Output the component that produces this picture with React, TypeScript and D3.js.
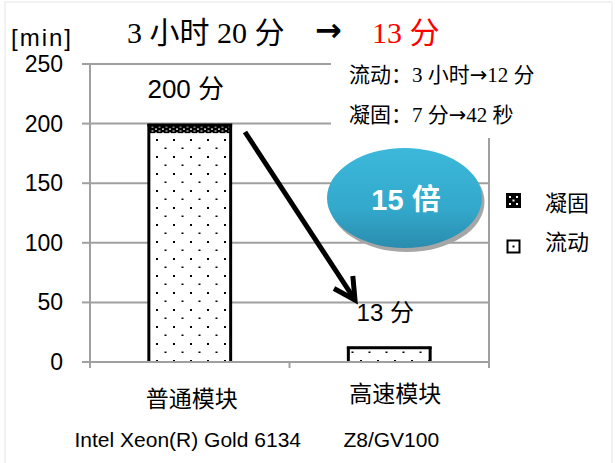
import React from "react";
import * as d3 from "d3";

const categories = ["普通模块", "高速模块"];
const subLabels = ["Intel Xeon(R) Gold 6134", "Z8/GV100"];
const flowValues = [192, 12];
const solidifyValues = [7.7, 0.7];
const totalLabels = ["200 分", "13 分"];
const yTicks = [0, 50, 100, 150, 200, 250];
const seriesNames = ["凝固", "流动"];
const noteParts = [
  ["流动：3 小时", "12 分"],
  ["凝固：7 分", "42 秒"],
];
const ratioLabel = "15 倍";

const W = 615;
const H = 463;
const left = 90;
const right = 489;
const top = 64;
const bottom = 362;

const sans = "'Liberation Sans', 'Noto Sans CJK SC', sans-serif";
const cjk = "'Liberation Serif', 'Noto Sans CJK SC', serif";
const arrowFont = "'DejaVu Sans', sans-serif";

export default function App() {
  const x = d3
    .scaleBand<string>()
    .domain(categories)
    .range([left, right])
    .paddingInner(0.59)
    .paddingOuter(0.295);
  const y = d3.scaleLinear().domain([0, 250]).range([bottom, top]);
  const bw = x.bandwidth();

  // arrow geometry
  const ax1 = 245, ay1 = 132, ax2 = 355, ay2 = 300;
  const ang = Math.atan2(ay2 - ay1, ax2 - ax1);
  const wing = 24;
  const wa = (28 * Math.PI) / 180;
  const w1x = ax2 - wing * Math.cos(ang - wa);
  const w1y = ay2 - wing * Math.sin(ang - wa);
  const w2x = ax2 - wing * Math.cos(ang + wa);
  const w2y = ay2 - wing * Math.sin(ang + wa);

  const grid = "#a0a0a0";

  return (
    <svg width={W} height={H} style={{ position: "absolute", left: 0, top: 0, background: "#fff" }}>
      <defs>
        <pattern id="flowPat" width="17" height="17" patternUnits="userSpaceOnUse">
          <rect width="17" height="17" fill="#fff" />
          <rect x="3" y="3" width="2" height="2" fill="#000" />
          <rect x="11.5" y="11.5" width="2" height="1.5" fill="#000" />
        </pattern>
        <pattern id="solidPat" width="7" height="4" patternUnits="userSpaceOnUse">
          <rect width="7" height="4" fill="#000" />
          <rect x="1" y="0.5" width="2" height="1.2" fill="#fff" />
          <rect x="4.5" y="2.5" width="2" height="1" fill="#fff" />
        </pattern>
        <linearGradient id="ellGrad" x1="0" y1="0" x2="0" y2="1">
          <stop offset="0" stopColor="#3cb8da" />
          <stop offset="0.6" stopColor="#33a9cc" />
          <stop offset="1" stopColor="#2a8cae" />
        </linearGradient>
      </defs>

      {/* outer frame */}
      <rect x={5} y={2} width={607} height={470} fill="none" stroke="#e6e6e6" strokeWidth={1} />

      {/* gridlines */}
      {yTicks.map((t) => (
        <line key={"g" + t} x1={left} x2={right} y1={y(t)} y2={y(t)} stroke={grid} strokeWidth={2} />
      ))}
      <line x1={right} x2={right} y1={top} y2={bottom + 5} stroke={grid} strokeWidth={2} />

      {/* note box (white background covers gridlines) */}
      <rect x={331} y={52} width={240} height={86} fill="#fff" />
      {noteParts.map((p, i) => (
        <text key={"n" + i} x={349} y={82 + i * 40} fontFamily={cjk} fontSize={21} fill="#000">
          {p[0]}
          <tspan fontFamily={arrowFont} fontSize={21}>→</tspan>
          {p[1]}
        </text>
      ))}

      {/* axes */}
      <line x1={left} x2={left} y1={top} y2={bottom} stroke={grid} strokeWidth={2} />
      {yTicks.map((t) => (
        <g key={"t" + t}>
          <line x1={left - 8} x2={left} y1={y(t)} y2={y(t)} stroke={grid} strokeWidth={2} />
          <text x={63} y={y(t) + 8} textAnchor="end" fontFamily={sans} fontSize={23} fill="#000">
            {t}
          </text>
        </g>
      ))}
      {[left, (left + right) / 2, right].map((v, i) => (
        <line key={"xt" + i} x1={v} x2={v} y1={bottom} y2={bottom + 6} stroke={grid} strokeWidth={2} />
      ))}

      {/* bars */}
      {categories.map((c, i) => {
        const x0 = x(c)!;
        const f = flowValues[i];
        const s = solidifyValues[i];
        const tot = f + s;
        return (
          <g key={"b" + c}>
            <rect x={x0} y={y(f)} width={bw} height={y(0) - y(f)} fill="url(#flowPat)" />
            <rect x={x0} y={y(tot)} width={bw} height={y(f) - y(tot)} fill="url(#solidPat)" />
            <line x1={x0} x2={x0} y1={y(tot)} y2={y(0)} stroke="#000" strokeWidth={3} />
            <line x1={x0 + bw} x2={x0 + bw} y1={y(tot)} y2={y(0)} stroke="#000" strokeWidth={3} />
            <line x1={x0 - 1.5} x2={x0 + bw + 1.5} y1={y(tot) + 1} y2={y(tot) + 1} stroke="#000" strokeWidth={3} />
            <text x={x0 + bw / 2 - 4} y={y(tot) - 26} textAnchor="middle" fontFamily={sans} fontSize={i === 0 ? 26 : 24} fill="#000">
              {totalLabels[i]}
            </text>
          </g>
        );
      })}
      <line x1={left} x2={right} y1={bottom} y2={bottom} stroke={grid} strokeWidth={2} />

      {/* category labels */}
      {categories.map((c, i) => (
        <g key={"l" + c}>
          <text x={x(c)! + bw / 2 + (i === 0 ? 2 : 6)} y={i === 0 ? 407 : 402} textAnchor="middle" fontFamily={cjk} fontSize={23} fill="#000">
            {c}
          </text>
          <text x={x(c)! + bw / 2 + (i === 0 ? -2 : 2)} y={447} textAnchor="middle" fontFamily={sans} fontSize={21} fill="#000">
            {subLabels[i]}
          </text>
        </g>
      ))}

      {/* arrow */}
      <line x1={ax1} y1={ay1} x2={ax2} y2={ay2} stroke="#000" strokeWidth={5} />
      <polyline points={`${w1x},${w1y} ${ax2},${ay2} ${w2x},${w2y}`} fill="none" stroke="#000" strokeWidth={5} strokeLinejoin="miter" />

      {/* ellipse */}
      <ellipse cx={407} cy={202} rx={77.5} ry={50} fill="#a6a6a6" />
      <ellipse cx={404.5} cy={198} rx={77.5} ry={50} fill="url(#ellGrad)" />
      <text x={406} y={210} textAnchor="middle" fontFamily={sans} fontWeight="bold" fontSize={29} fill="#fff">
        {ratioLabel}
      </text>

      {/* legend */}
      <rect x={506} y={193} width={15} height={15} fill="#000" />
      {[[509, 196], [516, 196], [509, 203], [516, 203], [512.5, 199.5]].map((p, i) => (
        <rect key={"ld" + i} x={p[0]} y={p[1]} width={2} height={2} fill="#fff" />
      ))}
      <text x={545} y={211} fontFamily={cjk} fontSize={22} fill="#000">
        {seriesNames[0]}
      </text>
      <rect x={507.5} y={240.5} width={12} height={12} fill="#fff" stroke="#000" strokeWidth={2} />
      <rect x={512.5} y={245.5} width={2} height={2} fill="#000" />
      <text x={545} y={250} fontFamily={cjk} fontSize={22} fill="#000">
        {seriesNames[1]}
      </text>

      {/* y unit */}
      <text x={11} y={46} fontFamily={sans} fontSize={24} textLength={60} fill="#000">
        [min]
      </text>

      {/* title */}
      <text x={127} y={43} fontFamily={cjk} fontSize={30} fill="#000">
        3 小时 20 分
      </text>
      <text x={315} y={41} fontFamily={arrowFont} fontSize={32} fontWeight="bold" fill="#000">
        →
      </text>
      <text x={372} y={43} fontFamily={cjk} fontSize={30} fill="#ff0000">
        13 分
      </text>
    </svg>
  );
}
